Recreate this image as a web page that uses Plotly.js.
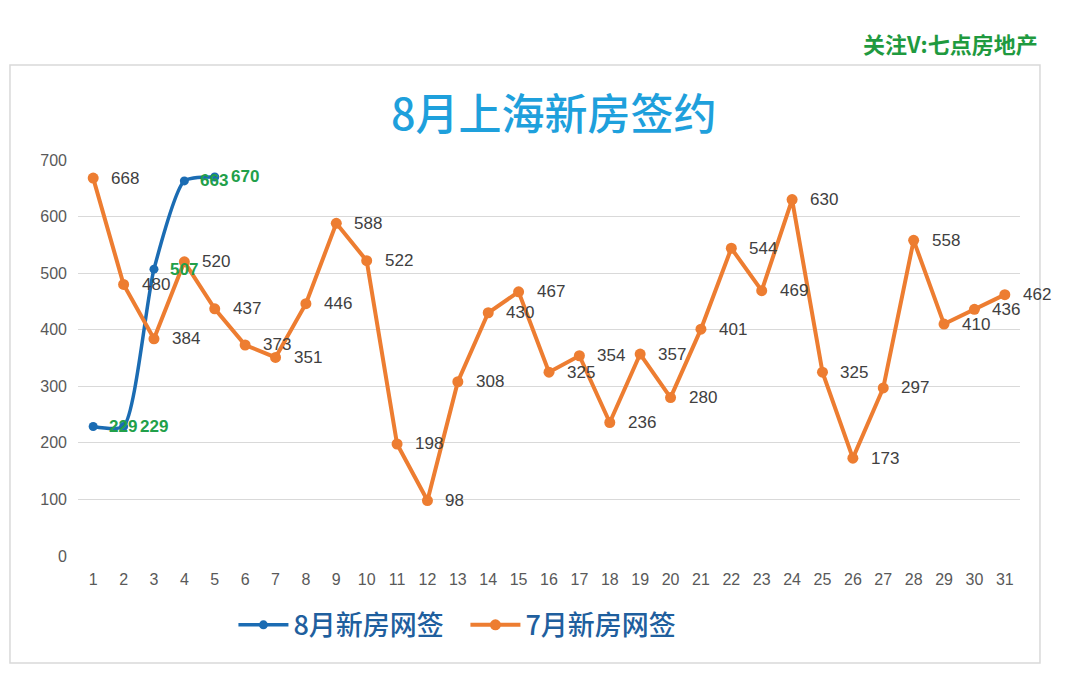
<!DOCTYPE html>
<html>
<head>
<meta charset="utf-8">
<script src="https://cdn.plot.ly/plotly-3.0.1.min.js"></script>
<style>html,body{margin:0;padding:0;background:#fff;}#chart{width:1080px;height:688px;}</style>
</head>
<body>
<div id="chart"></div>
<script>
const days = Array.from({length: 31}, (_, i) => i + 1);
const augDays = [1, 2, 3, 4, 5];
const augValues = [229, 229, 507, 663, 670];
const julValues = [668, 480, 384, 520, 437, 373, 351, 446, 588, 522, 198, 98, 308, 430, 467, 325, 354, 236, 357, 280, 401, 544, 469, 630, 325, 173, 297, 558, 410, 436, 462];
const yTicks = [0, 100, 200, 300, 400, 500, 600, 700];
const titleText = '8月上海新房签约';
const augName = '8月新房网签';
const julName = '7月新房网签';
const watermark = '关注V:七点房地产';

const cjk = '"Noto Sans CJK SC", "Noto Sans", sans-serif';
const lat = '"Liberation Sans", Arial, sans-serif';

const julTrace = {
  x: days, y: julValues, name: julName, type: 'scatter', mode: 'lines+markers',
  line: {color: '#ed7d31', width: 4},
  marker: {color: '#ed7d31', size: 11},
  hoverinfo: 'skip'
};
const augTrace = {
  x: augDays, y: augValues, name: augName, type: 'scatter', mode: 'lines+markers',
  line: {color: '#1b6cb3', width: 3.5, shape: 'spline', smoothing: 0.6},
  marker: {color: '#1b6cb3', size: 9},
  hoverinfo: 'skip'
};

const annotations = [];
julValues.forEach((v, i) => annotations.push({
  x: days[i], y: v, xref: 'x', yref: 'y', text: String(v), showarrow: false,
  xanchor: 'left', yanchor: 'middle', xshift: 16,
  font: {family: lat, size: 17, color: '#404040'}
}));
augValues.forEach((v, i) => annotations.push({
  x: augDays[i], y: v, xref: 'x', yref: 'y', text: '<b>' + v + '</b>', showarrow: false,
  xanchor: 'left', yanchor: 'middle', xshift: 14,
  font: {family: lat, size: 17, color: '#22a04a'}
}));
annotations.push({
  xref: 'paper', yref: 'paper', x: 1.021, y: 1.295, xanchor: 'right', yanchor: 'middle',
  text: '<b>' + watermark + '</b>', showarrow: false,
  font: {family: cjk, size: 22, color: '#1f9a3f'}
});

const layout = {
  width: 1080, height: 688,
  margin: {l: 78, r: 60, t: 160, b: 132},
  paper_bgcolor: '#ffffff', plot_bgcolor: '#ffffff',
  title: {
    text: titleText, xref: 'paper', x: 0.505, xanchor: 'center',
    yref: 'container', y: 1 - 115 / 688, yanchor: 'middle',
    font: {family: cjk, size: 43, color: '#1ea0dc', weight: 500}
  },
  xaxis: {
    range: [0.5, 31.5], tickmode: 'array', tickvals: days, ticktext: days.map(String),
    showgrid: false, zeroline: false, showline: false, ticks: '', ticklabelstandoff: 12,
    tickfont: {family: lat, size: 16, color: '#595959'}, fixedrange: true
  },
  yaxis: {
    range: [0, 700], tickmode: 'array', tickvals: yTicks, ticktext: yTicks.map(String),
    showgrid: true, gridcolor: '#d9d9d9', gridwidth: 1, zeroline: false, showline: false,
    ticks: '', ticklen: 0, ticklabelstandoff: 10,
    tickfont: {family: lat, size: 16, color: '#595959'}, fixedrange: true
  },
  showlegend: true,
  legend: {
    orientation: 'h', x: 0.165, xanchor: 'left', y: -0.175, yanchor: 'middle',
    font: {family: cjk, size: 27, color: '#1f5f9e', weight: 500},
    traceorder: 'normal', itemwidth: 50, entrywidth: 167
  },
  shapes: [{
    type: 'rect', xref: 'paper', yref: 'paper',
    x0: -0.0722, x1: 1.0212, y0: -0.270, y1: 1.240,
    line: {color: '#d9d9d9', width: 1.5}, fillcolor: 'rgba(0,0,0,0)', layer: 'below'
  }],
  annotations: annotations
};

Plotly.newPlot('chart', [augTrace, julTrace], layout, {displayModeBar: false, staticPlot: true});
</script>
</body>
</html>
